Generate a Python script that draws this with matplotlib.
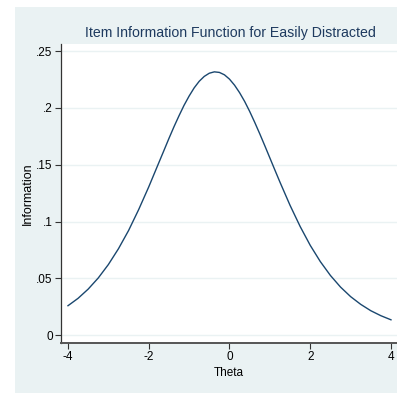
import numpy as np
import matplotlib.pyplot as plt
from matplotlib.patches import Rectangle

plt.rcParams['font.family'] = ['Liberation Sans', 'DejaVu Sans']

theta = [-4.0, -3.75, -3.5, -3.25, -3.0, -2.75, -2.5, -2.25, -2.0, -1.75,
         -1.625, -1.5, -1.375, -1.25, -1.125, -1.0, -0.875, -0.75, -0.625,
         -0.5, -0.375, -0.25, -0.125, 0.0, 0.125, 0.25, 0.375, 0.5, 0.625,
         0.75, 0.875, 1.0, 1.125, 1.25, 1.5, 1.75, 2.0, 2.25, 2.5, 2.75, 3.0,
         3.25, 3.5, 3.75, 4.0]
information = [0.0260, 0.0325, 0.0406, 0.0504, 0.0622, 0.0761, 0.0921, 0.1105,
               0.1305, 0.1518, 0.1624, 0.1731, 0.1834, 0.1931, 0.2023, 0.2104,
               0.2176, 0.2234, 0.2277, 0.2305, 0.2317, 0.2312, 0.2291, 0.2253,
               0.2200, 0.2134, 0.2057, 0.1969, 0.1873, 0.1772, 0.1667, 0.1560,
               0.1453, 0.1347, 0.1143, 0.0957, 0.0791, 0.0648, 0.0526, 0.0424,
               0.0340, 0.0272, 0.0216, 0.0172, 0.0136]

yticks = [0, 0.05, 0.1, 0.15, 0.2, 0.25]
yticklabels = ['0', '.05', '.1', '.15', '.2', '.25']
xticks = [-4, -2, 0, 2, 4]

W, H = 397, 393
bg = '#eaf2f3'
fig = plt.figure(figsize=(W / 100, H / 100), dpi=100, facecolor='white')
fig.patches.append(Rectangle((15 / W, 0), 1 - 15 / W, 1 - 7 / H,
                             transform=fig.transFigure, facecolor=bg,
                             edgecolor='none', zorder=-10))

ax = fig.add_axes([61 / W, 1 - 343 / H, 1 - 61 / W, (343 - 44) / H])
ax.set_facecolor('white')
ax.plot(theta, information, color='#1a476f', lw=1.0)

ax.set_xlim(-4.173, 4.149)
ax.set_ylim(-0.0068, 0.2562)
ax.set_xticks(xticks)
ax.set_xticklabels([str(t) for t in xticks])
ax.set_yticks(yticks)
ax.set_yticklabels(yticklabels, rotation=0)
ax.tick_params(direction='out', length=4, width=0.8, color='#333333',
               labelsize=8.5, pad=2)
ax.grid(axis='y', color=bg, lw=1.0)
ax.set_axisbelow(True)

for side in ['top', 'right']:
    ax.spines[side].set_visible(False)
ax.spines['left'].set_color('#333333')
ax.spines['left'].set_linewidth(0.9)
ax.spines['bottom'].set_color('#555555')
ax.spines['bottom'].set_linewidth(1.4)

ax.set_xlabel('Theta', fontsize=8.5, labelpad=3)
ax.set_ylabel('Information', fontsize=9, labelpad=2)

fig.text(230 / W, 1 - 33 / H, 'Item Information Function for Easily Distracted',
         ha='center', va='center', fontsize=10.2, color='#1e3a5f')

fig.savefig('out.png', dpi=100, facecolor='white')
